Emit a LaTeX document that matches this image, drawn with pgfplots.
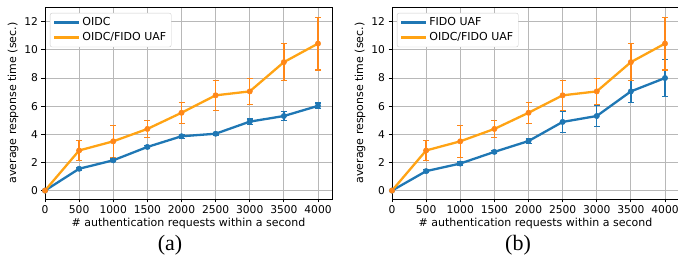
\documentclass[border=0pt]{standalone}
\usepackage{pgfplots}
\pgfplotsset{compat=1.18}
\usepackage{fontspec}
\setmainfont{DejaVu Sans}
\newfontfamily\serifcap{Liberation Serif}
\definecolor{mblue}{RGB}{31,119,180}
\definecolor{morange}{RGB}{255,163,20}
\definecolor{morangedk}{RGB}{255,135,25}

\pgfplotstableread{
x y e
0 0 0
500 1.55 0.1
1000 2.15 0.1
1500 3.10 0.12
2000 3.86 0.15
2500 4.04 0.1
3000 4.90 0.18
3500 5.30 0.3
4000 6.02 0.2
}\oidc

\pgfplotstableread{
x y e
0 0 0
500 2.85 0.70
1000 3.50 1.13
1500 4.38 0.60
2000 5.53 0.75
2500 6.77 1.07
3000 7.05 0.93
3500 9.13 1.31
4000 10.45 1.87
}\both

\pgfplotstableread{
x y e
0 0 0
500 1.38 0.1
1000 1.92 0.1
1500 2.75 0.1
2000 3.52 0.15
2500 4.88 0.74
3000 5.30 0.75
3500 7.05 0.77
4000 8.00 1.31
}\fido

\pgfplotsset{
 myaxis/.style={
  scale only axis, width=287pt, height=192pt,
  xmin=0, xmax=4205, ymin=-0.6, ymax=13.05,
  xtick={0,500,...,4000}, ytick={0,2,...,12},
  grid=major, grid style={black!28, line width=0.8pt},
  axis line style={line width=0.8pt},
  tick align=outside, tick pos=left, major tick length=3.5pt,
  tick style={black, line width=0.8pt},
  /pgf/number format/assume math mode=true,
  /pgf/number format/1000 sep={},
  ticklabel style={font=\fontsize{10.7}{12}\selectfont},
  label style={font=\fontsize{11}{13}\selectfont},
  xlabel={\# authentication requests within a second},
  ylabel={average response time (sec.)},
  xlabel style={yshift=3pt},
  ylabel style={yshift=-1pt},
  legend style={at={(0.017,0.969)}, anchor=north west, draw=black!20, rounded corners=2pt,
    font=\fontsize{11}{13}\selectfont, inner xsep=3pt, inner ysep=2.5pt, row sep=1.5pt,
    cells={anchor=west}},
  legend image code/.code={\draw[##1,mark=none,line width=2.3pt] (0pt,0pt) -- (25pt,0pt);},
 },
 blueplot/.style={mblue, line width=2.3pt, mark=*, mark size=2.7pt, mark options={fill=mblue, draw=mblue, line width=0.5pt},
   error bars/.cd, y dir=both, y explicit,
   error bar style={mblue, line width=1.3pt},
   error mark options={rotate=90, mblue, mark size=3pt, line width=1.3pt}},
 orangeplot/.style={morange, line width=2.3pt, mark=*, mark size=2.7pt, mark options={fill=morangedk, draw=morangedk, line width=0.5pt},
   error bars/.cd, y dir=both, y explicit,
   error bar style={morangedk, line width=1.3pt},
   error mark options={rotate=90, morangedk, mark size=3pt, line width=1.3pt}},
}

\begin{document}
\begin{tikzpicture}[x=1pt,y=1pt]
\begin{axis}[myaxis, at={(45pt,58pt)}, anchor=south west]
\addplot[blueplot] table[x=x,y=y,y error=e] {\oidc};
\addlegendentry{OIDC}
\addplot[orangeplot] table[x=x,y=y,y error=e] {\both};
\addlegendentry{OIDC/FIDO UAF}
\end{axis}
\begin{axis}[myaxis, at={(392pt,58pt)}, anchor=south west]
\addplot[blueplot] table[x=x,y=y,y error=e] {\fido};
\addlegendentry{FIDO UAF}
\addplot[orangeplot] table[x=x,y=y,y error=e] {\both};
\addlegendentry{OIDC/FIDO UAF}
\end{axis}
\node[font=\serifcap\fontsize{22}{26}\selectfont] at (170pt,12pt) {(a)};
\node[font=\serifcap\fontsize{22}{26}\selectfont] at (518pt,12pt) {(b)};
\pgfresetboundingbox
\path (0pt,0pt) rectangle (678pt,257pt);
\end{tikzpicture}
\end{document}
